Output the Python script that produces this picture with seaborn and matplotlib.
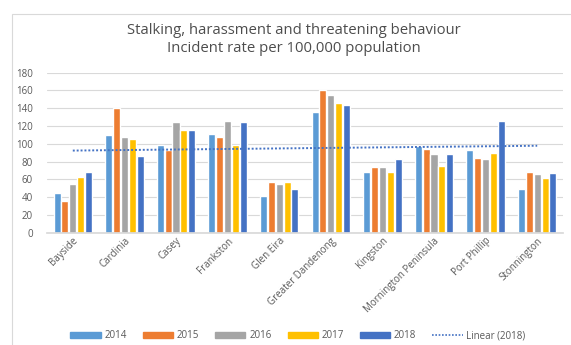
import numpy as np
import pandas as pd
import seaborn as sns
import matplotlib.pyplot as plt
from matplotlib.patches import Rectangle
from matplotlib.lines import Line2D

areas = ["Bayside", "Cardinia", "Casey", "Frankston", "Glen Eira",
         "Greater Dandenong", "Kingston", "Mornington Peninsula",
         "Port Phillip", "Stonnington"]
years = ["2014", "2015", "2016", "2017", "2018"]
rate_2014 = [45, 110, 99, 111, 41, 136, 68, 97, 93, 49]
rate_2015 = [36, 140, 93, 108, 57, 160, 73.5, 94.5, 83.5, 68]
rate_2016 = [55, 108, 125, 126, 55, 155, 73.5, 88, 83, 66]
rate_2017 = [63, 105, 115, 99, 57, 145.5, 68, 75, 90, 62]
rate_2018 = [68, 86, 115.5, 125, 49, 144, 83, 88, 125.6, 67]
colors = ["#5B9BD5", "#ED7D31", "#A5A5A5", "#FFC000", "#4472C4"]

series = [rate_2014, rate_2015, rate_2016, rate_2017, rate_2018]
df = pd.DataFrame({
    "area": np.tile(areas, len(years)),
    "year": np.repeat(years, len(areas)),
    "rate": np.concatenate(series),
})

sns.set_theme(style="white")
plt.rcParams["font.family"] = ["Open Sans", "DejaVu Sans"]

fig = plt.figure(figsize=(5.71, 3.45), dpi=100)
ax = fig.add_axes([47 / 571, 1 - 232.7 / 345, (563 - 47) / 571, 160 / 345])

sns.barplot(data=df, x="area", y="rate", hue="year", palette=colors,
            width=0.76, gap=0.1, ax=ax, legend=False, saturation=1)

# linear trendline through the 2018 series
xs = np.arange(len(areas))
slope, intercept = np.polyfit(xs, rate_2018, 1)
ax.plot(xs, slope * xs + intercept, linestyle=(0, (1, 1)), color="#4472C4",
        linewidth=1.4)

ax.set_ylim(0, 180)
ax.set_yticks(range(0, 181, 20))
ax.set_xlim(-0.5, len(areas) - 0.5)
ax.yaxis.grid(True, color="#D9D9D9", linewidth=0.8)
ax.set_axisbelow(True)
for s in ["top", "right", "left"]:
    ax.spines[s].set_visible(False)
ax.spines["bottom"].set_color("#D9D9D9")
ax.set_xlabel("")
ax.set_ylabel("")
ax.tick_params(axis="y", labelsize=7, colors="#595959", length=0, pad=10)
ax.tick_params(axis="x", labelsize=7, colors="#595959", length=0, pad=2)
plt.setp(ax.get_xticklabels(), rotation=45, ha="right", rotation_mode="anchor")

fig.text(0.515, 1 - 31 / 345, "Stalking, harassment and threatening behaviour",
         ha="center", va="center", fontsize=10.7, color="#4D4D4D")
fig.text(0.515, 1 - 49 / 345, "Incident rate per 100,000 population",
         ha="center", va="center", fontsize=10.7, color="#4D4D4D")

handles = [Rectangle((0, 0), 1, 1, color=c) for c in colors]
handles.append(Line2D([0], [0], linestyle=(0, (1, 1)), color="#4472C4",
                      linewidth=1.2))
labels = years + ["Linear (2018)"]
fig.legend(handles, labels, loc="center", bbox_to_anchor=(0.522, 1 - 336 / 345),
           ncol=6, frameon=False, fontsize=7, labelcolor="#595959",
           handlelength=3.1, handleheight=0.55, columnspacing=1.65,
           handletextpad=0.4)

fig.patches.append(Rectangle((12 / 571, -0.1), 1.2, 1 - 14 / 345 + 0.1,
                             transform=fig.transFigure, fill=False,
                             edgecolor="#D9D9D9", linewidth=0.8))

fig.savefig("out.png", dpi=100)
